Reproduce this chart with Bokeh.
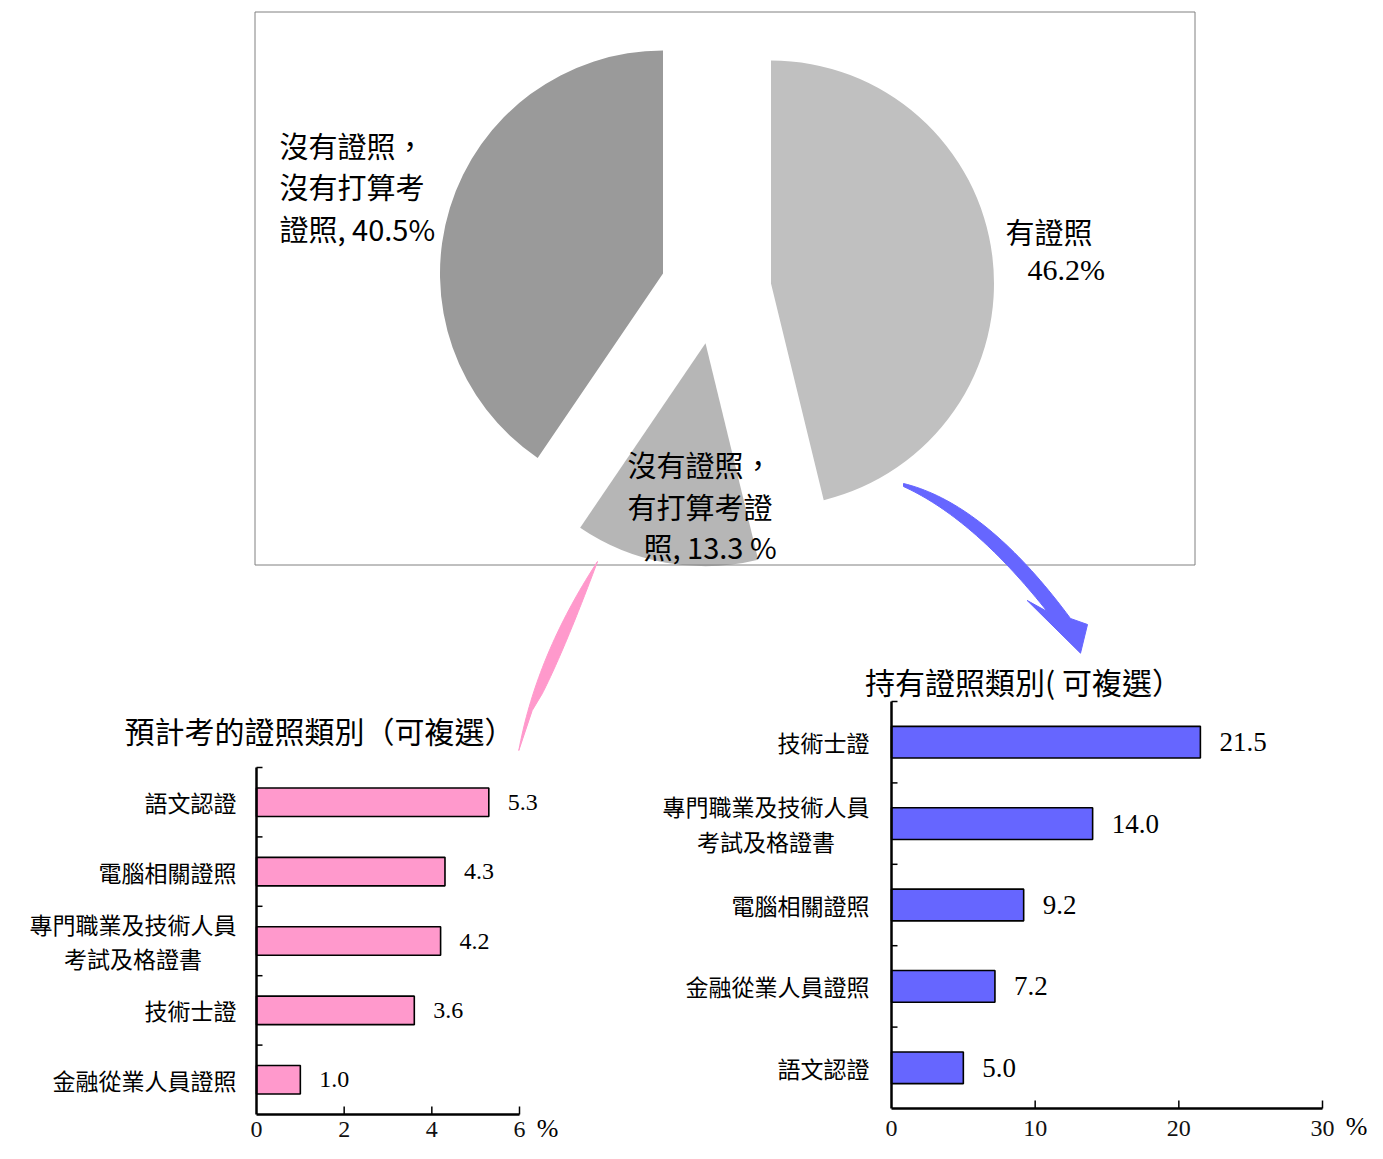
import numpy as np
from bokeh.plotting import figure
from bokeh.models import Range1d, ColumnDataSource
from bokeh.core.properties import value
from bokeh.embed import file_html
from bokeh.resources import INLINE

# ---------------- data ----------------
pie_labels = ["有證照", "沒有證照，有打算考證照", "沒有證照，沒有打算考證照"]
pie_values = [46.2, 13.3, 40.5]

plan_title = "預計考的證照類別（可複選）"
plan_categories = ["語文認證", "電腦相關證照", "專門職業及技術人員\n考試及格證書", "技術士證", "金融從業人員證照"]
plan_values = [5.3, 4.3, 4.2, 3.6, 1.0]
plan_ticks = [0, 2, 4, 6]

held_title = "持有證照類別( 可複選）"
held_categories = ["技術士證", "專門職業及技術人員\n考試及格證書", "電腦相關證照", "金融從業人員證照", "語文認證"]
held_values = [21.5, 14.0, 9.2, 7.2, 5.0]
held_ticks = [0, 10, 20, 30]

# ---------------- style ----------------
CJK = value("Noto Sans CJK TC")
SERIF = value("Liberation Serif")
PIE_COLORS = ["#C0C0C0", "#B6B6B6", "#9A9A9A"]
PINK = "#FF99CC"
BLUE = "#6666FF"

W, H = 1367, 1143

p = figure(width=W, height=H, x_range=Range1d(0, W), y_range=Range1d(-H, 0),
           x_axis_type=None, y_axis_type=None, toolbar_location=None, tools="",
           output_backend="svg", min_border=0, outline_line_color=None,
           background_fill_color="white", border_fill_color="white")


def span(v_a, px_a, v_b, px_b, lo, hi):
    k = (v_b - v_a) / (px_b - px_a)
    return Range1d(v_a + (lo - px_a) * k, v_a + (hi - px_a) * k)


def qbez(a, c, b, n=40):
    t = np.linspace(0, 1, n)
    x = (1 - t) ** 2 * a[0] + 2 * (1 - t) * t * c[0] + t ** 2 * b[0]
    y = (1 - t) ** 2 * a[1] + 2 * (1 - t) * t * c[1] + t ** 2 * b[1]
    return list(x), list(y)


# ---------------- pie ----------------
centers = [(770.5, 283.0), (705.0, 342.7), (662.5, 273.0)]
R = 223
cum = np.cumsum([0] + pie_values) / sum(pie_values) * 2 * np.pi
p.wedge(x=[c[0] for c in centers], y=[-c[1] for c in centers], radius=R,
        start_angle=list(np.pi / 2 - cum[:-1]), end_angle=list(np.pi / 2 - cum[1:]),
        direction="clock", fill_color=PIE_COLORS, line_color=None)

# frame around the pie
p.quad(left=[254.5], right=[1194.5], top=[-11.5], bottom=[-564.5], fill_color=None,
       line_color="#808080", line_width=1)


def label(lines, x, ys, font, size, align="left"):
    p.text(x=[x] * len(lines), y=[-y for y in ys], text=lines, text_font=font,
           text_font_size=f"{size}px", text_align=align, text_baseline="middle", text_color="black")


label(["沒有證照，", "沒有打算考"], 279, [144, 185], CJK, 29)
label(["證照, 40.5%"], 279, [227], CJK, 29)
label(["有證照"], 1005, [230], CJK, 29)
label([f"{pie_values[0]}%"], 1027, [269], SERIF, 30)
label(["沒有證照，", "有打算考證"], 627, [463, 505], CJK, 29)
label([f"照, {pie_values[1]} %"], 643, [545], CJK, 29)


# ---------------- bar charts ----------------
def add_bar_chart(name, title, title_xy, cats, vals, ticks, px0, px1, py_bottom, py_top, color,
                  bar_h, fs_cat, cat_gap, lh, fs_val, fs_tick, tick_dy, pct_dx, pct_dy):
    vmax = ticks[-1]
    n = len(cats)
    xr, yr = name + "x", name + "y"
    p.extra_x_ranges[xr] = span(0, px0, vmax, px1, 0, W)
    p.extra_y_ranges[yr] = span(0, -py_bottom, n, -py_top, -H, 0)
    ppu_x = (px1 - px0) / vmax
    ppu_y = (py_bottom - py_top) / n
    pos = [n - i - 0.5 for i in range(n)]
    maxlen = [max(len(s) for s in c.split("\n")) for c in cats]
    src = ColumnDataSource(dict(cat=cats, val=vals, pos=pos,
                                lab=[f"{v:.1f}" for v in vals],
                                off=[-(cat_gap + m * fs_cat / 2) for m in maxlen]))
    kw = dict(x_range_name=xr, y_range_name=yr)
    p.hbar(y="pos", left=0, right="val", height=bar_h, source=src, fill_color=color,
           line_color="black", line_width=1.6, **kw)
    p.text(x="val", y="pos", text="lab", source=src, x_offset=19, text_align="left",
           text_baseline="middle", text_font=SERIF, text_font_size=f"{fs_val}px", **kw)
    p.text(x=0, y="pos", text="cat", source=src, x_offset="off", text_align="center",
           text_baseline="middle", text_font=CJK, text_font_size=f"{fs_cat}px",
           text_line_height=lh, **kw)
    # axes
    p.segment(x0=[0, 0], y0=[0, 0], x1=[0, vmax], y1=[n, 0], line_color="black",
              line_width=2.5, **kw)
    yt = list(range(1, n + 1))
    p.segment(x0=[0] * len(yt), y0=yt, x1=[6 / ppu_x] * len(yt), y1=yt,
              line_color="black", line_width=1.5, **kw)
    xt = ticks[1:]
    p.segment(x0=xt, y0=[0] * len(xt), x1=xt, y1=[8 / ppu_y] * len(xt),
              line_color="black", line_width=1.5, **kw)
    p.text(x=ticks, y=[0] * len(ticks), text=[str(t) for t in ticks], y_offset=tick_dy,
           text_align="center", text_baseline="middle", text_font=SERIF,
           text_font_size=f"{fs_tick}px", text_color="#111111", **kw)
    p.text(x=[vmax], y=[0], text=["%"], x_offset=pct_dx, y_offset=pct_dy,
           text_align="center", text_baseline="middle", text_font=SERIF,
           text_font_size="26px", **kw)
    p.text(x=[title_xy[0]], y=[-title_xy[1]], text=[title], text_align="center",
           text_baseline="middle", text_font=CJK, text_font_size="30px")


add_bar_chart("plan", plan_title, (319, 729), plan_categories, plan_values, plan_ticks,
              256, 519, 1114, 767, PINK, 0.41, 23, 20, 1.0, 24, 24, 15, 28, 14)
add_bar_chart("held", held_title, (1023, 680), held_categories, held_values, held_ticks,
              891, 1322, 1108, 701, BLUE, 0.39, 23, 22, 1.05, 27, 24, 20, 34, 18)

# ---------------- arrows ----------------
# pink arrow: from the 13.3 % slice down to the plan chart
rx, ry = qbez((597, 561), (564.25, 648.85), (541.7, 693.3))
lx, ly = qbez((597, 561), (535.9, 654.5), (518.3, 750))
px = rx + [531.7, 518.3] + lx[::-1][1:]
py = ry + [710, 750] + ly[::-1][1:]
p.patch(x=px, y=[-v for v in py], fill_color=PINK, line_color=PINK, line_width=1)

# blue arrow: from the 46.2 % slice down to the held chart
tx, ty = qbez((903, 483), (985, 503), (1070, 618))
bx, by = qbez((903, 486), (973, 518), (1046.7, 611))
bxs = tx + [1087, 1080, 1026.7] + bx[::-1]
bys = ty + [624, 652.7, 600] + by[::-1]
p.patch(x=bxs, y=[-v for v in bys], fill_color=BLUE, line_color=BLUE, line_width=1)

open("out.html", "w").write(file_html(p, INLINE))
